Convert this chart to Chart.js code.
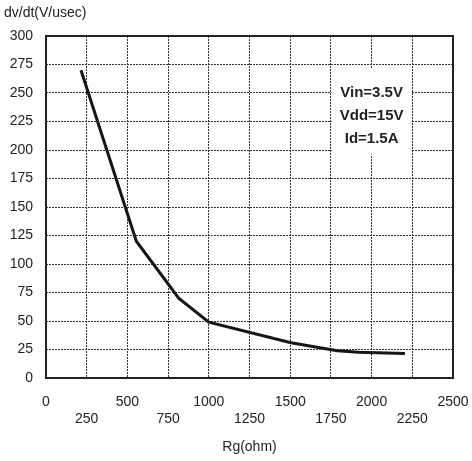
<!DOCTYPE html>
<html>
<head>
<meta charset="utf-8">
<script src="https://cdn.jsdelivr.net/npm/chart.js@4.4.1/dist/chart.umd.min.js"></script>
<style>
  html, body { margin: 0; padding: 0; background: #fff; }
  #wrap { width: 472px; height: 461px; position: relative; }
</style>
</head>
<body>
<div id="wrap"><canvas id="dvdtChart"></canvas></div>
<script>
// Rg (ohm) vs dv/dt (V/usec)
const rgValues = [215, 555, 815, 1000, 1505, 1790, 1920, 2205];
const dvdtValues = [270, 120, 70, 49, 31, 24, 22.5, 21.5];
const xTicks = [0, 250, 500, 750, 1000, 1250, 1500, 1750, 2000, 2250, 2500];
const yTicks = [0, 25, 50, 75, 100, 125, 150, 175, 200, 225, 250, 275, 300];
const noteLines = ["Vin=3.5V", "Vdd=15V", "Id=1.5A"];

const font = "'Liberation Sans', Arial, sans-serif";

// frame, y-axis caption and the condition note
const extras = {
  id: "extras",
  afterDraw(chart) {
    const ctx = chart.ctx;
    const area = chart.chartArea;
    const xs = chart.scales.x;
    const ys = chart.scales.y;
    ctx.save();

    // note box (white behind the text hides the grid)
    const cx = xs.getPixelForValue(2000);
    const top = ys.getPixelForValue(272);
    const bottom = ys.getPixelForValue(196);
    ctx.fillStyle = "#fff";
    ctx.fillRect(cx - 40, top, 80, bottom - top);
    ctx.fillStyle = "#222";
    ctx.font = "bold 15px " + font;
    ctx.textAlign = "center";
    ctx.textBaseline = "middle";
    noteLines.forEach(function (t, i) {
      ctx.fillText(t, cx, ys.getPixelForValue(250) + i * 23);
    });

    // plot frame
    ctx.strokeStyle = "#222";
    ctx.lineWidth = 2;
    ctx.strokeRect(area.left, area.top, area.right - area.left, area.bottom - area.top);

    // y caption
    ctx.font = "14px " + font;
    ctx.textAlign = "left";
    ctx.textBaseline = "middle";
    ctx.fillText("dv/dt(V/usec)", 4, 13);
    ctx.restore();
  }
};

document.addEventListener("DOMContentLoaded", function () {
  const ctx = document.getElementById("dvdtChart").getContext("2d");
  new Chart(ctx, {
    type: "line",
    data: {
      datasets: [{
        data: rgValues.map((x, i) => ({ x: x, y: dvdtValues[i] })),
        borderColor: "#151515",
        borderWidth: 3,
        pointRadius: 0,
        tension: 0,
        fill: false
      }]
    },
    options: {
      responsive: true,
      maintainAspectRatio: false,
      animation: false,
      layout: { padding: { top: 36, right: 19, left: 4, bottom: 0 } },
      plugins: { legend: { display: false }, tooltip: { enabled: false } },
      scales: {
        x: {
          type: "linear",
          min: 0,
          max: 2500,
          afterBuildTicks: function (axis) {
            axis.ticks = xTicks.map(v => ({ value: v }));
          },
          afterFit: function (axis) {
            axis.height = 83;
            axis.paddingLeft = 0;
            axis.paddingRight = 0;
          },
          ticks: {
            autoSkip: false,
            maxRotation: 0,
            padding: 16,
            color: "#222",
            font: { family: font, size: 14 },
            callback: function (v, i) {
              return i % 2 ? ["", String(v)] : String(v);
            }
          },
          grid: {
            color: "#333",
            lineWidth: 1,
            drawTicks: false
          },
          border: { display: false, dash: [2, 1] },
          title: {
            display: true,
            text: "Rg(ohm)",
            color: "#222",
            font: { family: font, size: 14 },
            padding: { top: 0, bottom: 5 }
          }
        },
        y: {
          min: 0,
          max: 300,
          afterBuildTicks: function (axis) {
            axis.ticks = yTicks.map(v => ({ value: v }));
          },
          afterFit: function (axis) {
            axis.width = 42;
            axis.paddingTop = 0;
            axis.paddingBottom = 0;
          },
          ticks: {
            padding: 13,
            color: "#222",
            font: { family: font, size: 14 }
          },
          grid: {
            color: "#333",
            lineWidth: 1,
            drawTicks: false
          },
          border: { display: false, dash: [2, 1] }
        }
      }
    },
    plugins: [extras]
  });
});
</script>
</body>
</html>
